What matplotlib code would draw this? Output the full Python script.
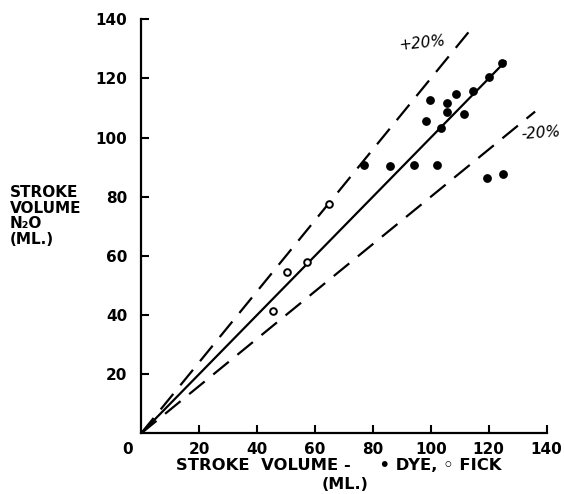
import matplotlib
matplotlib.use('Agg')
import matplotlib.pyplot as plt
import numpy as np

plt.rcParams.update({
    'font.family': 'DejaVu Sans',
    'font.weight': 'bold',
    'font.size': 11,
})

# Dye method points (filled)
dye_x = [99.6, 105.7, 108.7, 114.6, 120.2, 124.6, 105.7, 111.6, 98.2, 103.6,
         76.8, 85.8, 94.2, 102.0, 119.3, 124.9]
dye_y = [112.7, 111.7, 114.8, 115.6, 120.6, 125.3, 108.7, 107.9, 105.6, 103.4,
         90.6, 90.5, 90.9, 90.7, 86.5, 87.7]

# Fick method points (open)
fick_x = [45.4, 50.3, 57.4, 65.0]
fick_y = [41.4, 54.5, 58.1, 77.5]

# identity and +/-20% lines: slope, end x
line_slopes = [1.0, 1.2, 0.8]
line_ends = [126, 115, 136]

ticks = [20, 40, 60, 80, 100, 120, 140]

fig = plt.figure(figsize=(5.64, 4.94), dpi=100)
ax = fig.add_axes([0.25, 0.1225, 0.7193, 0.8385])

xx = np.array([0, line_ends[0]])
ax.plot(xx, line_slopes[0] * xx, color='black', lw=1.6, solid_capstyle='butt')
for s, e in zip(line_slopes[1:], line_ends[1:]):
    xx = np.array([0, e])
    ax.plot(xx, s * xx, color='black', lw=1.6, linestyle=(0, (9, 5)),
            dash_capstyle='butt')

ax.plot(dye_x, dye_y, 'o', color='black', markersize=5.3, zorder=3)
ax.plot(fick_x, fick_y, 'o', markerfacecolor='white', markeredgecolor='black',
        markersize=4.8, markeredgewidth=1.4, zorder=3)

ax.text(97, 132, '+20%', ha='center', va='center', fontsize=11, rotation=6,
        fontweight='normal', fontstyle='italic')
ax.text(138, 101.5, '-20%', ha='center', va='center', fontsize=11, rotation=4,
        fontweight='normal', fontstyle='italic')

ax.set_xlim(0, 140)
ax.set_ylim(0, 140)
ax.set_xticks(ticks)
ax.set_yticks(ticks)
ax.set_xticklabels([str(t) for t in ticks])
ax.set_yticklabels([str(t) for t in ticks])
ax.tick_params(direction='in', length=6, width=1.5, labelsize=11, pad=6)
ax.tick_params(axis='y', pad=10)
for side in ['top', 'right']:
    ax.spines[side].set_visible(False)
for side in ['left', 'bottom']:
    ax.spines[side].set_linewidth(1.6)

fig.text(128 / 564, 1 - 449 / 494, '0', ha='center', va='center', fontsize=11)

fig.text(10 / 564, 1 - 185 / 494, 'STROKE\nVOLUME\nN\u2082O\n(ML.)', ha='left',
         va='top', fontsize=11, linespacing=1.05)

fig.text(176 / 564, 1 - 465 / 494, 'STROKE  VOLUME -     \u2022 DYE, \u25e6 FICK',
         ha='left', va='center', fontsize=11.8)
fig.text(345 / 564, 1 - 484.5 / 494, '(ML.)', ha='center', va='center', fontsize=11.5)

fig.savefig('out.png', dpi=100)
